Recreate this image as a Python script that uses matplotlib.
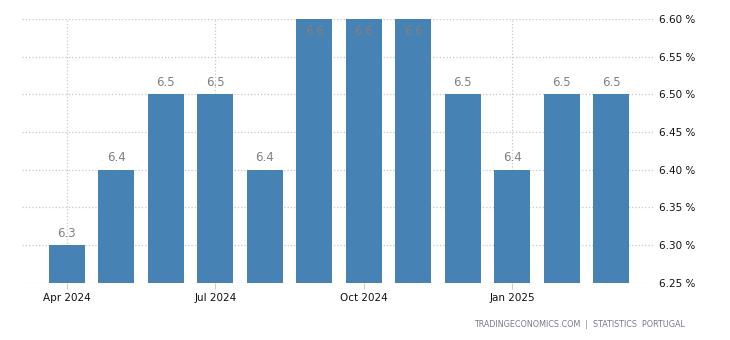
import matplotlib.pyplot as plt

months = ['Apr 2024', 'May 2024', 'Jun 2024', 'Jul 2024', 'Aug 2024', 'Sep 2024',
          'Oct 2024', 'Nov 2024', 'Dec 2024', 'Jan 2025', 'Feb 2025', 'Mar 2025']
values = [6.3, 6.4, 6.5, 6.5, 6.4, 6.6, 6.6, 6.6, 6.5, 6.4, 6.5, 6.5]
tick_idx = [0, 3, 6, 9]
yticks = [6.25, 6.30, 6.35, 6.40, 6.45, 6.50, 6.55, 6.60]

fig = plt.figure(figsize=(7.3, 3.4), dpi=100)
ax = fig.add_axes([0.030, 0.168, 0.865, 0.776])

x = list(range(len(values)))
ax.bar(x, values, width=0.73, color='#4682B4', zorder=2)

ymin, ymax = 6.25, 6.60
ax.set_ylim(ymin, ymax)
ax.set_xlim(-0.91, 11.85)

for xi, v in zip(x, values):
    if v >= ymax - 1e-9:
        ax.annotate(f'{v:.1f}', (xi, ymax), xytext=(0, -4.5), textcoords='offset points',
                    ha='center', va='top', fontsize=8.5, color='#808080', zorder=3)
    else:
        ax.annotate(f'{v:.1f}', (xi, v), xytext=(0, 4), textcoords='offset points',
                    ha='center', va='bottom', fontsize=8.5, color='#808080', zorder=3)

ax.set_xticks(tick_idx)
ax.set_xticklabels([months[i] for i in tick_idx], fontsize=7.5, color='#111111')
ax.set_yticks(yticks)
ax.set_yticklabels([f'{t:.2f} %' for t in yticks], fontsize=7.5, color='#111111')
ax.yaxis.tick_right()
ax.tick_params(axis='y', length=0, pad=4)
ax.tick_params(axis='x', length=4, color='#cccccc', pad=3)

ax.grid(True, linestyle=':', color='#c8c8c8', linewidth=0.9, zorder=0)
for s in ax.spines.values():
    s.set_visible(False)

fig.text(0.938, 0.045, 'TRADINGECONOMICS.COM  |  STATISTICS  PORTUGAL', ha='right',
         va='center', fontsize=5.8, color='#7a7a8a')

fig.savefig('out.png', dpi=100)
